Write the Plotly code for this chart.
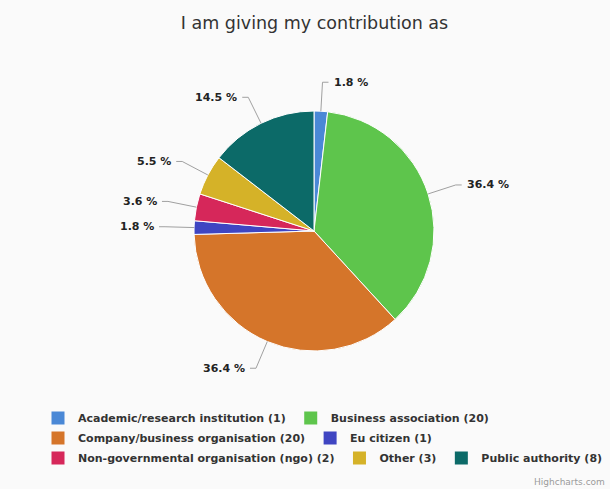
import math
import plotly.graph_objects as go

# Respondent categories and their counts
categories = [
    "Academic/research institution",
    "Business association",
    "Company/business organisation",
    "Eu citizen",
    "Non-governmental organisation (ngo)",
    "Other",
    "Public authority",
]
counts = [1, 20, 20, 1, 2, 3, 8]
colors = ["#4a88d6", "#5ec54c", "#d5752a", "#3f45c2", "#d6275a", "#d5b228", "#0c6a68"]

# Legend rows (indices into the category list)
legend_rows = [[0, 1], [2, 3], [4, 5, 6]]

W, H = 610, 489
CX, CY, R = 314, 231, 120          # pie centre and radius in pixels
LABEL_GAP = 29                      # distance of labels beyond the rim
FONT = "DejaVu Sans"

total = sum(counts)
pct = [100.0 * c / total for c in counts]
legend_names = [f"{name} ({c})" for name, c in zip(categories, counts)]
pct_labels = [f"{p:.1f} %" for p in pct]


def px_to_paper(x, y):
    return x / W, 1 - y / H


x0, y0 = px_to_paper(CX - R, CY + R)
x1, y1 = px_to_paper(CX + R, CY - R)

fig = go.Figure()
fig.add_trace(go.Pie(
    labels=legend_names,
    values=counts,
    sort=False,
    direction="clockwise",
    rotation=0,
    marker=dict(colors=colors, line=dict(color="#ffffff", width=1)),
    textinfo="none",
    hoverinfo="label+percent",
    domain=dict(x=[x0, x1], y=[y0, y1]),
    showlegend=False,
))

# Legend entries, one legend per row so each row keeps its natural widths
legend_ids = ["legend", "legend2", "legend3"]
for lid, row in zip(legend_ids, legend_rows):
    for i in row:
        fig.add_trace(go.Scatter(
            x=[None], y=[None], mode="markers", name=legend_names[i],
            marker=dict(symbol="square", size=13, color=colors[i]),
            legend=lid, showlegend=True, hoverinfo="skip",
        ))

# Outside value labels with connector lines, placed from each slice's mid angle
shapes, annotations = [], []
cum = 0.0
for p, text in zip(pct, pct_labels):
    mid = (cum + p / 2) / 100 * 2 * math.pi
    cum += p
    ux, uy = math.sin(mid), -math.cos(mid)
    ex, ey = CX + R * ux, CY + R * uy
    ox, oy = CX + (R + LABEL_GAP) * ux, CY + (R + LABEL_GAP) * uy
    side = 1 if ux >= 0 else -1
    hx = ox + side * 6
    pts = [px_to_paper(ex, ey), px_to_paper(ox, oy), px_to_paper(hx, oy)]
    path = "M {} {} L {} {} L {} {}".format(*[v for pt in pts for v in pt])
    shapes.append(dict(type="path", path=path, xref="paper", yref="paper",
                       line=dict(color="#a0a0a0", width=1)))
    tx, ty = px_to_paper(hx + side * 3, oy)
    annotations.append(dict(
        x=tx, y=ty, xref="paper", yref="paper", text=text, showarrow=False,
        xanchor="left" if side > 0 else "right", yanchor="middle",
        font=dict(family=FONT, size=11, color="#222222", weight="bold"),
    ))

annotations.append(dict(
    x=1 - 3 / W, y=1 - 482 / H, xref="paper", yref="paper", text="Highcharts.com",
    showarrow=False, xanchor="right", yanchor="middle",
    font=dict(family=FONT, size=9, color="#9a9a9a"),
))

legend_style = dict(
    orientation="h", xanchor="left", yanchor="middle", traceorder="normal",
    font=dict(family=FONT, size=11, color="#333333", weight="bold"),
    itemwidth=30, bgcolor="rgba(0,0,0,0)", borderwidth=0,
)
row_y = [418, 438, 458]
legend_layout = {}
for lid, y in zip(legend_ids, row_y):
    legend_layout[lid] = dict(legend_style, x=38 / W, y=1 - y / H)

fig.update_layout(
    width=W, height=H,
    margin=dict(l=0, r=0, t=0, b=0),
    paper_bgcolor="#fafafa",
    plot_bgcolor="#fafafa",
    title=dict(text="I am giving my contribution as", x=314.5 / W, xanchor="center",
               y=1 - 23 / H, yanchor="middle",
               font=dict(family=FONT, size=17.5, color="#333333")),
    showlegend=True,
    xaxis=dict(visible=False),
    yaxis=dict(visible=False),
    shapes=shapes,
    annotations=annotations,
    **legend_layout,
)

fig.write_html("out.html")
